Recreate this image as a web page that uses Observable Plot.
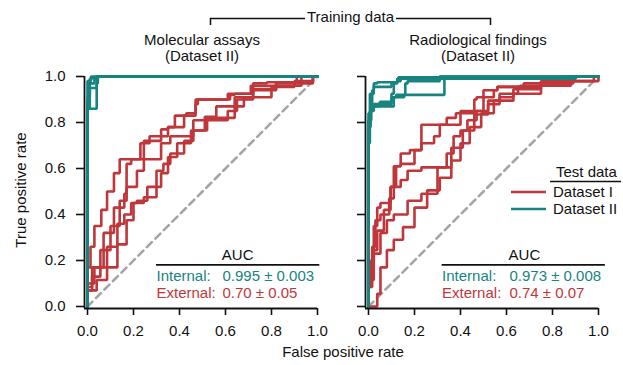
<!DOCTYPE html>
<html><head><meta charset="utf-8">
<script src="https://cdn.jsdelivr.net/npm/d3@7"></script>
<script src="https://cdn.jsdelivr.net/npm/@observablehq/plot@0.6"></script>
<style>
body{margin:0;background:#fff;}
#wrap{position:relative;width:623px;height:365px;overflow:hidden;}
#wrap svg{position:absolute;left:0;top:0;overflow:visible;}
</style></head><body><div id="wrap"></div>
<script>
// ---------- data ----------
const xTicks = [0, 0.2, 0.4, 0.6, 0.8, 1.0];
const yTicks = [0, 0.2, 0.4, 0.6, 0.8, 1.0];
const panelTitles = ["Molecular assays", "Radiological findings"];
const panelSubtitles = ["(Dataset II)", "(Dataset II)"];
const topLabel = "Training data";
const aucHeader = "AUC";
const aucLabels = ["Internal:", "External:"];
const aucInternal = ["0.995 \u00b1 0.003", "0.973 \u00b1 0.008"];
const aucExternal = ["0.70 \u00b1 0.05", "0.74 \u00b1 0.07"];
const legendTitle = "Test data";
const testLabels = ["Dataset I", "Dataset II"];
const xLabel = "False positive rate";
const yLabel = "True positive rate";

// ROC curves [fpr, tpr]; external = tested on Dataset I, internal = tested on Dataset II
const molecularExternal = [
  [[0,0],[0.013,0.17],[0.03,0.26],[0.06,0.35],[0.085,0.42],[0.115,0.5],[0.14,0.58],[0.18,0.64],[0.245,0.64],[0.27,0.72],[0.32,0.72],[0.35,0.77],[0.38,0.78],[0.39,0.83],[0.47,0.83],[0.48,0.9],[0.62,0.9],[0.64,0.92],[0.72,0.925],[0.78,0.97],[0.91,0.975],[0.97,1],[1,1]],
  [[0,0],[0.02,0.085],[0.07,0.17],[0.115,0.32],[0.16,0.43],[0.17,0.49],[0.19,0.62],[0.23,0.64],[0.27,0.71],[0.35,0.74],[0.37,0.78],[0.42,0.78],[0.43,0.83],[0.47,0.84],[0.48,0.88],[0.61,0.9],[0.71,0.925],[0.82,0.96],[0.9,0.97],[0.98,0.98],[1,1]],
  [[0,0],[0.02,0.07],[0.056,0.13],[0.1,0.245],[0.14,0.35],[0.17,0.46],[0.215,0.52],[0.245,0.59],[0.32,0.64],[0.36,0.71],[0.46,0.74],[0.52,0.81],[0.64,0.82],[0.68,0.87],[0.8,0.91],[0.9,0.955],[0.98,0.97],[1,1]],
  [[0,0],[0.03,0.1],[0.085,0.17],[0.13,0.26],[0.16,0.36],[0.19,0.4],[0.215,0.45],[0.26,0.46],[0.3,0.52],[0.33,0.59],[0.36,0.62],[0.42,0.665],[0.46,0.72],[0.51,0.765],[0.56,0.825],[0.64,0.87],[0.72,0.91],[0.82,0.945],[0.93,0.975],[1,1]],
  [[0,0],[0.04,0.07],[0.085,0.115],[0.13,0.17],[0.17,0.27],[0.2,0.375],[0.245,0.45],[0.3,0.475],[0.32,0.52],[0.35,0.58],[0.39,0.65],[0.45,0.71],[0.52,0.765],[0.61,0.81],[0.65,0.85],[0.72,0.9],[0.82,0.94],[0.93,0.96],[0.98,0.975],[1,1]]
];
const molecularInternal = [
  [[0,0],[0,0.8],[0.005,0.9],[0.01,0.97],[0.02,0.99],[0.04,0.995],[0.2,1],[1,1]],
  [[0,0],[0,0.85],[0.01,0.86],[0.01,0.93],[0.03,0.97],[0.04,0.99],[0.1,1],[1,1]],
  [[0,0],[0.002,0.88],[0.01,0.92],[0.04,0.95],[0.045,0.99],[0.06,1],[1,1]],
  [[0,0],[0,0.83],[0.04,0.86],[0.045,0.97],[0.05,1],[1,1]],
  [[0,0],[0,0.92],[0.015,0.98],[0.03,1],[1,1]]
];
const radiologicalExternal = [
  [[0,0],[0.01,0.085],[0.023,0.2],[0.038,0.35],[0.052,0.43],[0.096,0.45],[0.12,0.52],[0.14,0.61],[0.2,0.62],[0.23,0.68],[0.255,0.79],[0.4,0.79],[0.41,0.85],[0.5,0.85],[0.56,0.94],[0.675,0.955],[0.69,0.97],[0.89,0.97],[0.98,0.98],[1,1]],
  [[0,0],[0.016,0.085],[0.03,0.26],[0.052,0.375],[0.09,0.4],[0.11,0.47],[0.14,0.61],[0.18,0.665],[0.23,0.68],[0.285,0.71],[0.31,0.74],[0.34,0.79],[0.38,0.82],[0.46,0.84],[0.47,0.9],[0.545,0.91],[0.56,0.94],[0.66,0.955],[0.75,0.96],[0.88,0.98],[1,1]],
  [[0,0],[0.016,0.13],[0.038,0.245],[0.067,0.33],[0.096,0.42],[0.14,0.52],[0.17,0.55],[0.23,0.59],[0.34,0.605],[0.37,0.665],[0.4,0.74],[0.43,0.765],[0.47,0.81],[0.52,0.85],[0.57,0.895],[0.65,0.925],[0.75,0.955],[0.86,0.975],[1,1]],
  [[0,0],[0.023,0.115],[0.052,0.23],[0.08,0.32],[0.11,0.375],[0.17,0.4],[0.23,0.46],[0.3,0.49],[0.36,0.605],[0.41,0.69],[0.46,0.765],[0.52,0.835],[0.57,0.88],[0.63,0.91],[0.75,0.945],[0.88,0.97],[1,1]],
  [[0,0],[0.038,0],[0.052,0.055],[0.08,0.17],[0.11,0.245],[0.15,0.29],[0.2,0.345],[0.255,0.43],[0.31,0.505],[0.36,0.56],[0.4,0.635],[0.44,0.71],[0.49,0.78],[0.545,0.84],[0.63,0.895],[0.75,0.925],[0.88,0.96],[1,0.98],[1,1]]
];
const radiologicalInternal = [
  [[0,0],[0.006,0.71],[0.016,0.85],[0.023,0.94],[0.038,0.97],[0.125,0.975],[0.13,0.99],[0.31,0.997],[1,1]],
  [[0,0],[0.009,0.78],[0.023,0.85],[0.05,0.88],[0.1,0.89],[0.11,0.925],[0.125,0.97],[0.14,0.98],[0.88,0.99],[1,1]],
  [[0,0],[0.012,0.81],[0.038,0.87],[0.1,0.88],[0.12,0.91],[0.16,0.92],[0.17,0.97],[0.31,0.98],[1,1]],
  [[0,0],[0.009,0.8],[0.045,0.87],[0.11,0.87],[0.155,0.91],[0.33,0.92],[0.33,0.97],[0.9,0.99],[1,1]],
  [[0,0],[0.006,0.84],[0.023,0.925],[0.1,0.955],[0.125,0.975],[0.9,0.99],[1,1]]
];

// ---------- style ----------
const RED = "#bf363b";
const TEAL = "#17847f";
const FONT = "'Liberation Sans', Arial, Helvetica, sans-serif";
const FS = 15;

function flat(curves) {
  return curves.flatMap((c, i) => c.map(([x, y]) => ({x, y, k: i})));
}

function panel({external, internal, ml, mr, showY, idx, aucX, valX, lineX1, lineX2, hdrX}) {
  const fmt = d3.format(".1f");
  return Plot.plot({
    width: 623, height: 365,
    marginLeft: ml, marginRight: mr, marginTop: 76, marginBottom: 57,
    x: {domain: [0, 1], insetLeft: 3, insetRight: 0},
    y: {domain: [0, 1], insetBottom: 2, insetTop: 0},
    style: {fontFamily: FONT, fontSize: FS + "px", background: "transparent", overflow: "visible", color: "#111"},
    marks: [
      Plot.line([[0, 0], [1, 1]], {stroke: "#a5a5a5", strokeWidth: 2.6, strokeDasharray: "7,5"}),
      Plot.line(flat(external), {x: "x", y: "y", z: "k", stroke: RED, strokeWidth: 2.6, curve: "step-before", strokeLinejoin: "miter"}),
      Plot.line(flat(internal), {x: "x", y: "y", z: "k", stroke: TEAL, strokeWidth: 2.6, curve: "step-before", strokeLinejoin: "miter"}),
      Plot.ruleX([0], {dx: -3, stroke: "#111", strokeWidth: 1.8}),
      Plot.ruleY([0], {dy: 2, stroke: "#111", strokeWidth: 1.8}),
      Plot.axisX({ticks: xTicks, tickSize: 7, tickPadding: 10, tickFormat: fmt, label: null, strokeWidth: 1.6, fontSize: FS}),
      Plot.axisY({ticks: yTicks, tickSize: 8, tickPadding: 11, tickFormat: showY ? fmt : () => "", label: null, strokeWidth: 1.6, fontSize: FS}),
      // AUC table
      Plot.text([aucHeader], {x: hdrX, y: 0.203, text: d => d, textAnchor: "middle", lineAnchor: "bottom", fontSize: FS, fill: "#111"}),
      Plot.ruleY([0.181], {x1: lineX1, x2: lineX2, stroke: "#111", strokeWidth: 1.6}),
      Plot.text([aucLabels[0]], {x: aucX, y: 0.113, text: d => d, textAnchor: "start", lineAnchor: "bottom", fontSize: FS, fill: TEAL}),
      Plot.text([aucInternal[idx]], {x: valX, y: 0.113, text: d => d, textAnchor: "start", lineAnchor: "bottom", fontSize: FS, fill: TEAL}),
      Plot.text([aucLabels[1]], {x: aucX, y: 0.038, text: d => d, textAnchor: "start", lineAnchor: "bottom", fontSize: FS, fill: RED}),
      Plot.text([aucExternal[idx]], {x: valX, y: 0.038, text: d => d, textAnchor: "start", lineAnchor: "bottom", fontSize: FS, fill: RED})
    ]
  });
}

const wrap = document.getElementById("wrap");
wrap.append(panel({external: molecularExternal, internal: molecularInternal, ml: 84, mr: 306, showY: true, idx: 0,
  aucX: 0.30, valX: 0.587, lineX1: 0.30, lineX2: 1.01, hdrX: 0.653}));
wrap.append(panel({external: radiologicalExternal, internal: radiologicalInternal, ml: 365, mr: 25, showY: false, idx: 1,
  aucX: 0.32, valX: 0.613, lineX1: 0.32, lineX2: 1.03, hdrX: 0.678}));

// ---------- annotations ----------
const ns = "http://www.w3.org/2000/svg";
const ann = document.createElementNS(ns, "svg");
ann.setAttribute("width", 623); ann.setAttribute("height", 365);
ann.setAttribute("font-family", FONT); ann.setAttribute("font-size", FS);
function el(tag, attrs, text) {
  const e = document.createElementNS(ns, tag);
  for (const k in attrs) e.setAttribute(k, attrs[k]);
  if (text != null) e.textContent = text;
  ann.append(e);
  return e;
}
// training bracket
el("path", {d: "M210.5,25V18.5H305", fill: "none", stroke: "#111", "stroke-width": 1.5});
el("path", {d: "M396,18.5H490.5V25", fill: "none", stroke: "#111", "stroke-width": 1.5});
el("text", {x: 350.5, y: 22, "text-anchor": "middle", fill: "#111"}, topLabel);
// panel titles
el("text", {x: 202, y: 45, "text-anchor": "middle", fill: "#111"}, panelTitles[0]);
el("text", {x: 202, y: 61, "text-anchor": "middle", fill: "#111"}, panelSubtitles[0]);
el("text", {x: 478, y: 45, "text-anchor": "middle", fill: "#111"}, panelTitles[1]);
el("text", {x: 478, y: 61, "text-anchor": "middle", fill: "#111"}, panelSubtitles[1]);
// axis labels
el("text", {x: 343, y: 357, "text-anchor": "middle", fill: "#111"}, xLabel);
el("text", {transform: "translate(26,190) rotate(-90)", "text-anchor": "middle", fill: "#111"}, yLabel);
// legend
el("text", {x: 556, y: 177, fill: "#111"}, legendTitle);
el("line", {x1: 550, x2: 621, y1: 181.5, y2: 181.5, stroke: "#111", "stroke-width": 1.6});
el("line", {x1: 511, x2: 546, y1: 192, y2: 192, stroke: RED, "stroke-width": 2.6});
el("text", {x: 553, y: 197, fill: "#111"}, testLabels[0]);
el("line", {x1: 511, x2: 546, y1: 209, y2: 209, stroke: TEAL, "stroke-width": 2.6});
el("text", {x: 553, y: 214, fill: "#111"}, testLabels[1]);
wrap.append(ann);
</script></body></html>
